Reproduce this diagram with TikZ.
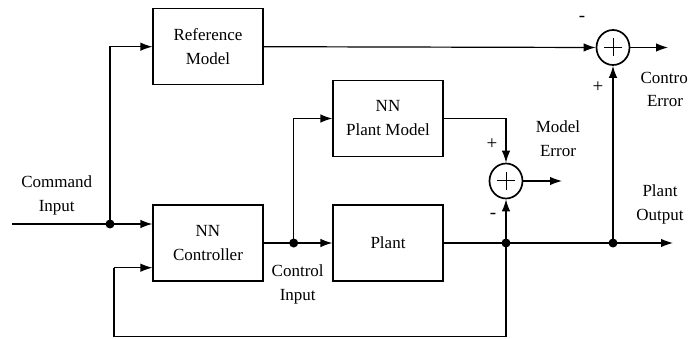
\documentclass[tikz,border=0pt]{standalone}
\usepackage{fontspec}
\setmainfont{Liberation Serif}
\usetikzlibrary{arrows.meta,shapes.geometric,calc}
\begin{document}
\begin{tikzpicture}[x=1pt,y=-1pt,
  line width=1.2pt,
  font=\fontsize{17}{24}\selectfont,
  block/.style={draw,rectangle,minimum width=110pt,minimum height=76pt,align=center,inner sep=0pt},
  sumnode/.style={draw,ellipse,line width=1.7pt,minimum width=33pt,minimum height=35pt,inner sep=0pt},
  dot/.style={circle,fill=black,inner sep=0pt,minimum size=9pt},
  arr/.style={-{Latex[length=12pt,width=8.5pt]}},
  lbl/.style={align=center,inner sep=0pt},
  sgn/.style={inner sep=0pt,font=\fontsize{19}{19}\selectfont}]
\useasboundingbox (0,0) rectangle (688,339);
% blocks
\node[block] (ref) at (208,46.7) {Reference\\Model};
\node[block] (ctrl) at (208,243) {NN\\Controller};
\node[block] (pm) at (388,118.5) {NN\\Plant Model};
\node[block] (plant) at (388,243) {Plant};
% summing junctions
\node[sumnode] (s1) at (613,47.5) {};
\node[sumnode] (s2) at (506,181) {};
\draw[line width=1pt] ($(s1.center)+(-9,0)$) -- ($(s1.center)+(9,0)$) ($(s1.center)+(0,-9)$) -- ($(s1.center)+(0,9)$);
\draw[line width=1pt] ($(s2.center)+(-9,0)$) -- ($(s2.center)+(9,0)$) ($(s2.center)+(0,-9)$) -- ($(s2.center)+(0,9)$);
% junction dots
\node[dot] (j1) at (110,224) {};
\node[dot] (j2) at (293.7,243) {};
\node[dot] (j3) at (506,243) {};
\node[dot] (j4) at (613,243) {};
% free ends
\coordinate (cin) at (12,224);
\coordinate (ceout) at (668,47.5);
\coordinate (meout) at (562,181);
\coordinate (poout) at (673,243);
\coordinate (fbtop) at (114,267.7);
\coordinate (fbbot) at (114,336.7);
\coordinate (fbr) at (506,336.7);
% connectors
\draw (cin) -- (j1.center);
\draw[arr] (j1.center) -- (ctrl.west |- j1);
\draw[arr] (j1.center) |- (ref.west);
\draw[arr] (ref.east) -- (s1.west);
\draw[arr] (s1.east) -- (ceout);
\draw (ctrl.east) -- (j2.center);
\draw[arr] (j2.center) -- (plant.west);
\draw[arr] (j2.center) |- (pm.west);
\draw[arr] (pm.east) -| (s2.north);
\draw[arr] (s2.east) -- (meout);
\draw (plant.east) -- (j3.center) -- (j4.center);
\draw[arr] (j4.center) -- (poout);
\draw[arr] (j3.center) -- (s2.south);
\draw[arr] (j4.center) -- (s1.south);
\draw (j3.center) -- (fbr) -- (fbbot) -- (fbtop);
\draw[arr] (fbtop) -- (ctrl.west |- fbtop);
% labels
\node[lbl] at (56.7,195.5) {Command\\Input};
\node[lbl] at (297.7,284.5) {Control\\Input};
\node[lbl] at (558,139) {Model\\Error};
\node[lbl] at (660,204) {Plant\\Output};
\node[lbl,anchor=west] at (640,78) {Control};
\node[lbl] at (665,101) {Error};
\node[sgn] at (582,19) {-};
\node[sgn] at (598,87) {+};
\node[sgn] at (492,144) {+};
\node[sgn] at (493,216) {-};
\end{tikzpicture}
\end{document}
